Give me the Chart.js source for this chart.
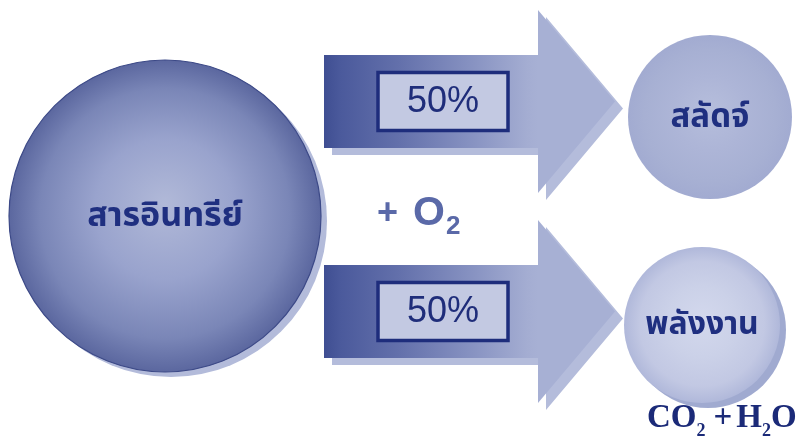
<!DOCTYPE html>
<html><head><meta charset="utf-8">
<script src="https://cdn.jsdelivr.net/npm/chart.js@4/dist/chart.umd.min.js"></script>
<style>html,body{margin:0;padding:0;background:#fff;overflow:hidden}#wrap{width:802px;height:438px;position:relative}</style>
</head><body><div id="wrap"><canvas id="c" width="802" height="438"></canvas></div>
<script>
// ---- data ----
const nodeLabels = ['สารอินทรีย์', 'สลัดจ์', 'พลังงาน'];
const flowShares = [50, 50];               // percent going to each product
const reactantLabel = ['+', 'O', '2'];     // + O2
const productLabel = ['C', 'O', '2', '+', 'H', '2', 'O'];   // CO2 + H2O
const productIsSub = [false, false, true, false, false, true, false];

// ---- layout (diagram positions in axis units) ----
const nodeCx = [165, 710, 702];
const nodeCy = [216, 117, 325];
const nodeRad = [156, 82, 78];
const flowCy = [101.5, 311.5];
const arrowGeom = {x0: 324, x1: 538, tip: 615, shaftHalf: 46.5, headHalf: 91.5, boxX0: 378, boxX1: 508, boxHalf: 29};
const reactantX = [377, 413, 446];
const productStartX = 647;
const productGapAfter = [0, 0, 8, 4, 0, 0, 0];

const nodeFills = [
  ['#b1b9d8', '#99a3cd', '#7a86b7', '#5b679f'],
  ['#b6bedc', '#adb5d7', '#a7b0d3', '#a2abd1'],
  ['#d3d8ed', '#cbd1e8', '#c2c8e3', '#b0b8da']
];
const shadowFills = ['#b3bbda', 'rgba(0,0,0,0)', '#a0aad0'];

function radialFill(ctx, i) {
  const chart = ctx.chart;
  const xs = chart.scales.x, ys = chart.scales.y;
  const c = nodeFills[i];
  if (!xs || !ys) return c[2];
  const px = xs.getPixelForValue(nodeCx[i]);
  const py = ys.getPixelForValue(nodeCy[i]);
  const r = nodeRad[i];
  if (!isFinite(px) || !isFinite(py)) return c[2];
  const g = chart.ctx.createRadialGradient(px, py - r * 0.08, 0, px, py, r);
  g.addColorStop(0, c[0]); g.addColorStop(0.45, c[1]); g.addColorStop(0.8, c[2]); g.addColorStop(1, c[3]);
  return g;
}

const arrowPlugin = {
  id: 'arrows',
  beforeDatasetsDraw(chart) {
    const ctx = chart.ctx, xs = chart.scales.x, ys = chart.scales.y;
    const A = arrowGeom;
    flowCy.forEach((cy, k) => {
      const X = v => xs.getPixelForValue(v), Y = v => ys.getPixelForValue(v);
      const shape = (dx, dy) => {
        ctx.beginPath();
        ctx.moveTo(X(A.x0) + dx, Y(cy - A.shaftHalf) + dy);
        ctx.lineTo(X(A.x1) + dx, Y(cy - A.shaftHalf) + dy);
        ctx.lineTo(X(A.x1) + dx, Y(cy - A.headHalf) + dy);
        ctx.lineTo(X(A.tip) + dx, Y(cy) + dy);
        ctx.lineTo(X(A.x1) + dx, Y(cy + A.headHalf) + dy);
        ctx.lineTo(X(A.x1) + dx, Y(cy + A.shaftHalf) + dy);
        ctx.lineTo(X(A.x0) + dx, Y(cy + A.shaftHalf) + dy);
        ctx.closePath();
      };
      ctx.save();
      shape(8, 7);
      ctx.fillStyle = '#b4bcdb';
      ctx.fill();
      shape(0, 0);
      const g = ctx.createLinearGradient(X(A.x0), 0, X(A.x1), 0);
      g.addColorStop(0, '#3f4e92');
      g.addColorStop(0.08, '#4b5a9c');
      g.addColorStop(0.35, '#6370ab');
      g.addColorStop(0.7, '#8893c2');
      g.addColorStop(0.95, '#a4add2');
      g.addColorStop(1, '#a7b0d4');
      ctx.fillStyle = g;
      ctx.fill();
      const bx0 = X(A.boxX0), bx1 = X(A.boxX1), by0 = Y(cy - A.boxHalf), by1 = Y(cy + A.boxHalf);
      ctx.fillStyle = '#c3c9e2';
      ctx.fillRect(bx0, by0, bx1 - bx0, by1 - by0);
      ctx.lineWidth = 3.5;
      ctx.strokeStyle = '#1e2d7c';
      ctx.strokeRect(bx0, by0, bx1 - bx0, by1 - by0);
      ctx.fillStyle = '#1f2d7a';
      ctx.font = '36px "Liberation Sans", Arial, sans-serif';
      ctx.textAlign = 'center';
      ctx.textBaseline = 'middle';
      ctx.fillText(flowShares[k] + '%', (bx0 + bx1) / 2, (by0 + by1) / 2 + 1);
      ctx.restore();
    });
  },
  afterDatasetsDraw(chart) {
    const ctx = chart.ctx, xs = chart.scales.x, ys = chart.scales.y;
    ctx.save();
    ctx.textAlign = 'center';
    ctx.textBaseline = 'middle';
    ctx.fillStyle = '#1f2f80';
    const thai = '"Noto Sans Thai", "Noto Serif Thai", "Loma", "Garuda", "Noto Sans", sans-serif';
    const sizes = [34, 33, 32];
    nodeLabels.forEach((t, i) => {
      ctx.font = 'bold ' + sizes[i] + 'px ' + thai;
      ctx.fillText(t, xs.getPixelForValue(nodeCx[i]), ys.getPixelForValue(nodeCy[i]) + 3);
    });
    // + O2
    ctx.textAlign = 'left';
    ctx.textBaseline = 'alphabetic';
    ctx.fillStyle = '#5a69a8';
    const ry = ys.getPixelForValue(225);
    ctx.font = 'bold 36px "Liberation Sans", Arial, sans-serif';
    ctx.fillText(reactantLabel[0], xs.getPixelForValue(reactantX[0]), ry - 1);
    ctx.font = 'bold 41px "Liberation Sans", Arial, sans-serif';
    ctx.fillText(reactantLabel[1], xs.getPixelForValue(reactantX[1]), ry);
    ctx.font = 'bold 26px "Liberation Sans", Arial, sans-serif';
    ctx.fillText(reactantLabel[2], xs.getPixelForValue(reactantX[2]), ry + 9);
    // CO2 + H2O
    ctx.fillStyle = '#1b2a78';
    const py = ys.getPixelForValue(427);
    let x = xs.getPixelForValue(productStartX);
    productLabel.forEach((s, i) => {
      const sub = productIsSub[i];
      ctx.font = sub ? 'bold 18px "Liberation Serif", "Times New Roman", serif' : 'bold 33px "Liberation Serif", "Times New Roman", serif';
      ctx.fillText(s, x, py + (sub ? 9 : 0));
      x += ctx.measureText(s).width + productGapAfter[i];
    });
    ctx.restore();
  }
};

const nodePoints = nodeCx.map((x, i) => ({x, y: nodeCy[i], r: nodeRad[i]}));
const shadowPoints = nodeCx.map((x, i) => ({x: x + 6, y: nodeCy[i] + 5, r: nodeRad[i]}));

new Chart(document.getElementById('c'), {
  type: 'bubble',
  data: {
    datasets: [
      {
        label: 'nodes',
        data: nodePoints,
        order: 1,
        backgroundColor: ctx => radialFill(ctx, ctx.dataIndex),
        borderColor: ['#3c4987', 'rgba(0,0,0,0)', 'rgba(0,0,0,0)'],
        borderWidth: [1.2, 0, 0],
        clip: false
      },
      {
        label: 'shadow',
        data: shadowPoints,
        order: 2,
        backgroundColor: shadowFills,
        borderWidth: 0,
        clip: false
      }
    ]
  },
  options: {
    responsive: false,
    animation: false,
    devicePixelRatio: 1,
    events: [],
    layout: {padding: 0, autoPadding: false},
    plugins: {legend: {display: false}, tooltip: {enabled: false}},
    scales: {
      x: {type: 'linear', min: 0, max: 802, display: false},
      y: {type: 'linear', min: 0, max: 438, reverse: true, display: false}
    }
  },
  plugins: [arrowPlugin]
});
</script>
</body></html>
